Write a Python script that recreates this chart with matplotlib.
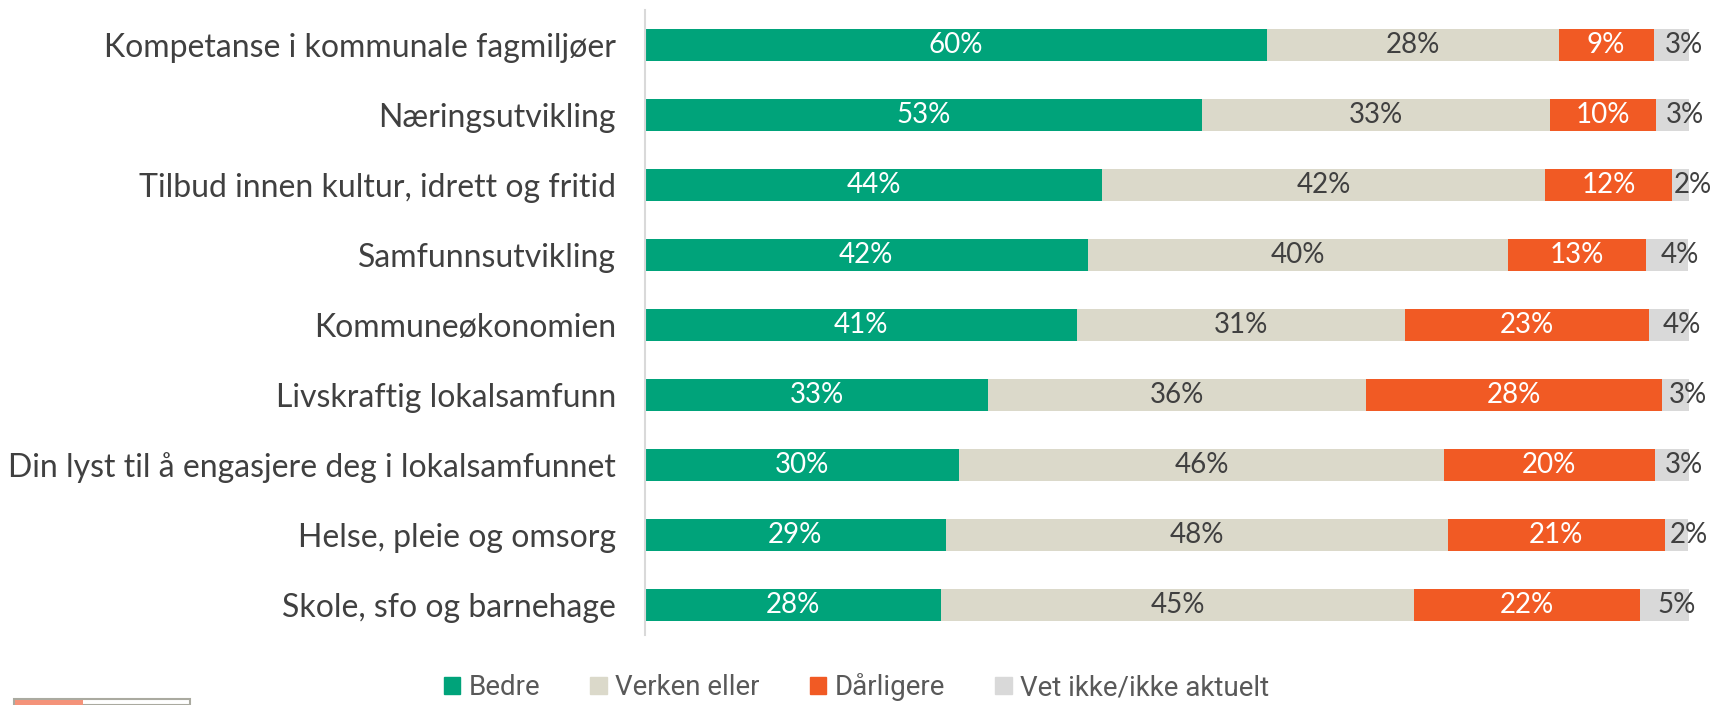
import matplotlib.pyplot as plt
import matplotlib.patches as mpatches
import numpy as np

# Categories, top to bottom
categories = [
    "Kompetanse i kommunale fagmiljøer",
    "Næringsutvikling",
    "Tilbud innen kultur, idrett og fritid",
    "Samfunnsutvikling",
    "Kommuneøkonomien",
    "Livskraftig lokalsamfunn",
    "Din lyst til å engasjere deg i lokalsamfunnet",
    "Helse, pleie og omsorg",
    "Skole, sfo og barnehage",
]

# Shares in percent
bedre = [59.6, 53.4, 43.8, 42.4, 41.4, 32.9, 30.1, 28.8, 28.4]
verken = [27.9, 33.3, 42.4, 40.3, 31.4, 36.2, 46.4, 48.1, 45.3]
darligere = [9.1, 10.1, 12.2, 13.2, 23.4, 28.3, 20.2, 20.8, 21.6]
vet_ikke = [3.4, 3.3, 1.6, 4.0, 3.8, 2.6, 3.3, 2.2, 4.7]

series = ["Bedre", "Verken eller", "Dårligere", "Vet ikke/ikke aktuelt"]
colors = ["#00A37A", "#DBD9CA", "#F15A24", "#D9D9D9"]
label_colors = ["white", "#404040", "white", "#404040"]

data = np.array([bedre, verken, darligere, vet_ikke])

fig = plt.figure(figsize=(17.13, 7.05), dpi=100)
ax = fig.add_axes([645 / 1713, 70 / 705, 1044 / 1713, 625 / 705])

y = np.arange(len(categories))
left = np.zeros(len(categories))
for k in range(len(series)):
    ax.barh(y, data[k], left=left, height=0.46, color=colors[k],
            label=series[k], linewidth=0)
    for i in range(len(categories)):
        v = data[k, i]
        xc = left[i] + v / 2
        if k == 3:
            xc += 1.2
        ax.text(xc, y[i], f"{round(v):.0f}%", ha="center", va="center",
                color=label_colors[k], fontsize=20, family="Lato",
                clip_on=False)
    left += data[k]

ax.set_xlim(0, 100)
ax.set_ylim(8.43, -0.5)
ax.set_yticks(y)
ax.set_yticklabels(categories, fontsize=23, color="#404040", family="Lato")
ax.tick_params(axis="y", length=0, pad=21)
ax.set_xticks([])
for s in ["top", "right", "bottom"]:
    ax.spines[s].set_visible(False)
ax.spines["left"].set_color("#D9D9D9")
ax.spines["left"].set_linewidth(1.5)

handles = [mpatches.Patch(color=c) for c in colors]
fig.legend(handles, series, loc="center", bbox_to_anchor=(0.5, 0.025),
           ncol=4, frameon=False,
           prop={"family": "Roboto", "size": 20},
           handlelength=0.6, handleheight=0.6, handletextpad=0.3,
           columnspacing=1.8, labelcolor="#595959")

# cut-off element in the lower left corner
fig.patches.append(mpatches.Rectangle((14 / 1713, 0), 176 / 1713, 6 / 705,
                                      transform=fig.transFigure, facecolor="white",
                                      edgecolor="#AAAAA0", linewidth=1.5))
fig.patches.append(mpatches.Rectangle((15 / 1713, 0), 68 / 1713, 5 / 705,
                                      transform=fig.transFigure, facecolor="#F4937A",
                                      linewidth=0))

fig.savefig("out.png", dpi=100)
